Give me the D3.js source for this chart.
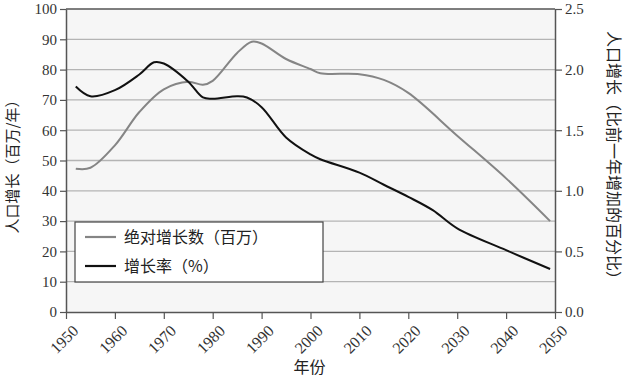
<!DOCTYPE html>
<html>
<head>
<meta charset="utf-8">
<script src="https://cdn.jsdelivr.net/npm/d3@7"></script>
<style>
  body { margin: 0; background: #fff; }
  .num { font-family: "Liberation Serif", "DejaVu Serif", serif; font-size: 15px; fill: #333; }
  .cjk { font-family: "Noto Sans CJK SC", sans-serif; font-size: 16px; fill: #222; }
</style>
</head>
<body>
<div id="chart"></div>
<script>
// --- donnees ---
const absYears  = [1952, 1955, 1960, 1965, 1970, 1975, 1978, 1980, 1985, 1988, 1990, 1995, 2000, 2002, 2010, 2015, 2020, 2030, 2040, 2049];
const absValues = [47.3, 47.6, 55, 66, 73.5, 76, 75, 76.3, 85.5, 89.2, 88.6, 83.5, 80.2, 78.8, 78.5, 76.6, 72.3, 58.2, 44.1, 30];

const rateYears  = [1952, 1955, 1960, 1965, 1968, 1970, 1975, 1978, 1980, 1985, 1987, 1990, 1995, 2000, 2002, 2010, 2015, 2020, 2025, 2030, 2040, 2049];
const rateValues = [1.86, 1.78, 1.83, 1.96, 2.06, 2.05, 1.9, 1.77, 1.76, 1.78, 1.77, 1.69, 1.44, 1.3, 1.26, 1.15, 1.05, 0.95, 0.84, 0.69, 0.51, 0.355];

const xTicks = [1950, 1960, 1970, 1980, 1990, 2000, 2010, 2020, 2030, 2040, 2050];
const leftTicks = [0, 10, 20, 30, 40, 50, 60, 70, 80, 90, 100];
const rightTicks = [0, 0.5, 1.0, 1.5, 2.0, 2.5];
const seriesNames = ["绝对增长数（百万）", "增长率（%）"];
const seriesColors = ["#858585", "#111111"];

const W = 628, H = 378;
const margin = {top: 9, right: 73, bottom: 66, left: 66};
const iw = W - margin.left - margin.right;
const ih = H - margin.top - margin.bottom;

const svg = d3.select("#chart").append("svg")
  .attr("width", W).attr("height", H);

const g = svg.append("g").attr("transform", `translate(${margin.left},${margin.top})`);

const x = d3.scaleLinear().domain([1950, 2050]).range([0, iw]);
const yL = d3.scaleLinear().domain([0, 100]).range([ih, 0]);
const yR = d3.scaleLinear().domain([0, 2.5]).range([ih, 0]);

// fond
g.append("rect").attr("width", iw).attr("height", ih).attr("fill", "#f6f6f6");

// grille
g.selectAll(".grid").data(leftTicks.slice(1, -1)).enter().append("line")
  .attr("x1", 0).attr("x2", iw)
  .attr("y1", d => yL(d)).attr("y2", d => yL(d))
  .attr("stroke", "#b4b4b4").attr("stroke-width", 1.3);

// bord haut
g.append("line").attr("x1", 0).attr("x2", iw).attr("y1", 0).attr("y2", 0)
  .attr("stroke", "#555").attr("stroke-width", 1.3);

// axes
function styleAxis(sel) {
  sel.select(".domain").attr("stroke", "#555").attr("stroke-width", 1.5);
  sel.selectAll(".tick line").attr("stroke", "#555").attr("stroke-width", 1.2);
  sel.selectAll(".tick text").attr("class", "num").attr("fill", "#333");
}

const axL = g.append("g")
  .call(d3.axisLeft(yL).tickValues(leftTicks).tickSize(6).tickSizeOuter(0).tickPadding(3));
styleAxis(axL);

const axR = g.append("g").attr("transform", `translate(${iw},0)`)
  .call(d3.axisRight(yR).tickValues(rightTicks).tickFormat(d3.format(".1f")).tickSize(7).tickSizeOuter(0).tickPadding(3));
styleAxis(axR);

const axB = g.append("g").attr("transform", `translate(0,${ih})`)
  .call(d3.axisBottom(x).tickValues(xTicks).tickFormat(d3.format("d")).tickSize(7).tickSizeOuter(0));
styleAxis(axB);
axB.selectAll(".tick text")
  .style("font-size", "16px")
  .attr("x", 0).attr("y", 0)
  .attr("text-anchor", "end")
  .attr("dy", "0.7em")
  .attr("transform", "translate(5,12) rotate(-45)");

// courbes
const absData = absYears.map((d, i) => ({year: d, v: absValues[i]}));
const rateData = rateYears.map((d, i) => ({year: d, v: rateValues[i]}));

g.append("path").datum(absData)
  .attr("fill", "none").attr("stroke", seriesColors[0]).attr("stroke-width", 2)
  .attr("d", d3.line().x(d => x(d.year)).y(d => yL(d.v)).curve(d3.curveCatmullRom.alpha(0.5)));

g.append("path").datum(rateData)
  .attr("fill", "none").attr("stroke", seriesColors[1]).attr("stroke-width", 2)
  .attr("d", d3.line().x(d => x(d.year)).y(d => yR(d.v)).curve(d3.curveCatmullRom.alpha(0.5)));

// legende
const lg = svg.append("g").attr("transform", "translate(75,222)");
lg.append("rect").attr("width", 248).attr("height", 60)
  .attr("fill", "#fff").attr("stroke", "#444").attr("stroke-width", 1.2);
seriesNames.forEach((name, i) => {
  const yy = 15 + i * 29;
  lg.append("line").attr("x1", 10).attr("x2", 41).attr("y1", yy).attr("y2", yy)
    .attr("stroke", seriesColors[i]).attr("stroke-width", 2.2);
  lg.append("text").attr("class", "cjk").attr("x", 49).attr("y", yy + 6).text(name);
});

// titres des axes
svg.append("text").attr("class", "cjk")
  .style("font-size", "15px")
  .attr("transform", "translate(18,163) rotate(-90)")
  .attr("text-anchor", "middle").text("人口增长（百万/年）");

svg.append("text").attr("class", "cjk")
  .attr("transform", "translate(608,159) rotate(90)")
  .attr("text-anchor", "middle").text("人口增长（比前一年增加的百分比）");

svg.append("text").attr("class", "cjk")
  .attr("x", margin.left + x(2000) - 1).attr("y", 373)
  .attr("text-anchor", "middle").text("年份");
</script>
</body>
</html>
